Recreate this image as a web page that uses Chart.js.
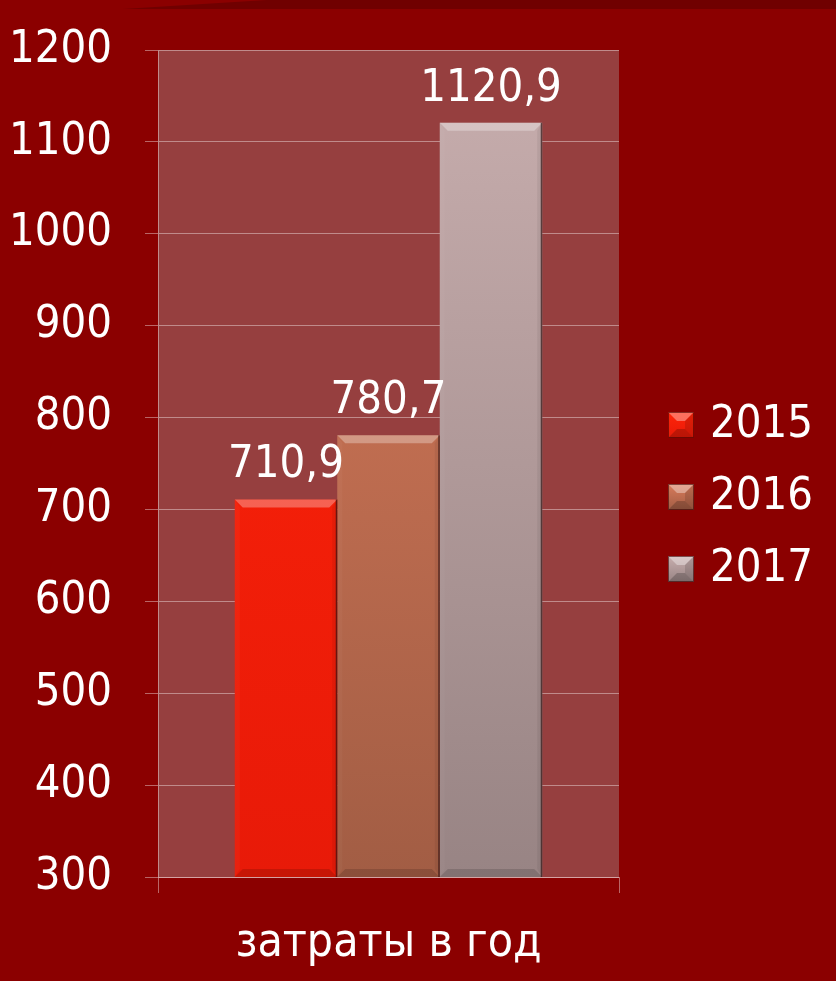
<!DOCTYPE html>
<html>
<head>
<meta charset="utf-8">
<script src="https://cdn.jsdelivr.net/npm/chart.js@4/dist/chart.umd.min.js"></script>
<style>
  html, body { margin: 0; padding: 0; background: #8B0000; }
  #wrap { width: 836px; height: 981px; }
</style>
</head>
<body>
<div id="wrap"><canvas id="c" width="836" height="981"></canvas></div>
<script>
const categories = ['затраты в год'];
const seriesNames = ['2015', '2016', '2017'];
const values2015 = [710.9];
const values2016 = [780.7];
const values2017 = [1120.9];
const yTicks = [300, 400, 500, 600, 700, 800, 900, 1000, 1100, 1200];

const FONT = '"DejaVu Sans Condensed", "DejaVu Sans", sans-serif';
const gradStops = {
  '2015': ['#FF2409', '#E81A08'],
  '2016': ['#D97B5B', '#A25D44'],
  '2017': ['#C8AEAE', '#988484']
};

function barGradient(ctx, name) {
  const chart = ctx.chart;
  const area = chart.chartArea;
  if (!area) return gradStops[name][0];
  const el = ctx.element;
  const top = el && isFinite(el.y) ? el.y : area.top;
  const g = chart.ctx.createLinearGradient(0, top, 0, area.bottom);
  g.addColorStop(0, gradStops[name][0]);
  g.addColorStop(1, gradStops[name][1]);
  return g;
}

function legendImage(name) {
  const s = 26;
  const cv = document.createElement('canvas');
  cv.width = s; cv.height = s;
  const c = cv.getContext('2d');
  const g = c.createLinearGradient(0, 0, 0, s);
  g.addColorStop(0, gradStops[name][0]);
  g.addColorStop(1, gradStops[name][1]);
  c.fillStyle = g;
  c.fillRect(0, 0, s, s);
  const b = 9;
  c.fillStyle = 'rgba(255,255,255,0.35)';
  c.beginPath(); c.moveTo(0,0); c.lineTo(s,0); c.lineTo(s-b,b); c.lineTo(b,b); c.closePath(); c.fill();
  c.fillStyle = 'rgba(0,0,0,0.12)';
  c.beginPath(); c.moveTo(s,0); c.lineTo(s,s); c.lineTo(s-b,s-b); c.lineTo(s-b,b); c.closePath(); c.fill();
  c.fillStyle = 'rgba(0,0,0,0.2)';
  c.beginPath(); c.moveTo(0,s); c.lineTo(s,s); c.lineTo(s-b,s-b); c.lineTo(b,s-b); c.closePath(); c.fill();
  c.strokeStyle = 'rgba(60,0,0,0.6)';
  c.lineWidth = 1;
  c.strokeRect(0.5, 0.5, s-1, s-1);
  return cv;
}

const bgPlugin = {
  id: 'bgPlugin',
  beforeLayout(chart) {
    const lg = chart.legend;
    if (lg && !lg._fixedWidth) {
      const orig = lg.fit.bind(lg);
      lg.fit = function () { orig(); this.width = 188.5; };
      lg._fixedWidth = true;
    }
  },
  beforeDraw(chart) {
    const {ctx, chartArea: a} = chart;
    ctx.save();
    ctx.fillStyle = '#8B0000';
    ctx.fillRect(0, 0, chart.width, chart.height);
    ctx.fillStyle = '#700000';
    ctx.beginPath();
    ctx.moveTo(123, 9); ctx.lineTo(267, 0); ctx.lineTo(836, 0); ctx.lineTo(836, 9);
    ctx.closePath(); ctx.fill();
    ctx.fillStyle = '#963F3F';
    ctx.fillRect(a.left, a.top, a.right - a.left, a.bottom - a.top);
    ctx.restore();
  }
};

const bevelPlugin = {
  id: 'bevelPlugin',
  afterDatasetsDraw(chart) {
    const ctx = chart.ctx;
    const area = chart.chartArea;
    ctx.save();
    chart.data.datasets.forEach((ds, i) => {
      const meta = chart.getDatasetMeta(i);
      meta.data.forEach((el, j) => {
        const l = el.x - el.width / 2, r = el.x + el.width / 2;
        const t = el.y, btm = Math.min(el.base, area.bottom);
        const b = 8, sb = 5;
        ctx.fillStyle = 'rgba(255,255,255,0.30)';
        ctx.beginPath(); ctx.moveTo(l,t); ctx.lineTo(r,t); ctx.lineTo(r-b,t+b); ctx.lineTo(l+b,t+b); ctx.closePath(); ctx.fill();
        ctx.fillStyle = 'rgba(255,255,255,0.03)';
        ctx.beginPath(); ctx.moveTo(l,t); ctx.lineTo(l+sb,t+b); ctx.lineTo(l+sb,btm-b); ctx.lineTo(l,btm); ctx.closePath(); ctx.fill();
        ctx.fillStyle = 'rgba(0,0,0,0.06)';
        ctx.beginPath(); ctx.moveTo(r,t); ctx.lineTo(r-sb,t+b); ctx.lineTo(r-sb,btm-b); ctx.lineTo(r,btm); ctx.closePath(); ctx.fill();
        ctx.fillStyle = 'rgba(0,0,0,0.14)';
        ctx.beginPath(); ctx.moveTo(l,btm); ctx.lineTo(l+b,btm-b); ctx.lineTo(r-b,btm-b); ctx.lineTo(r,btm); ctx.closePath(); ctx.fill();
        ctx.strokeStyle = 'rgba(50,20,20,0.7)';
        ctx.lineWidth = 1.5;
        ctx.beginPath(); ctx.moveTo(r-0.75, t); ctx.lineTo(r-0.75, btm); ctx.stroke();
        // data label
        const v = ds.data[j];
        ctx.fillStyle = '#FFFFFF';
        ctx.font = '45px ' + FONT;
        ctx.textAlign = 'center';
        ctx.textBaseline = 'alphabetic';
        ctx.fillText(v.toFixed(1).replace('.', ','), el.x, t - 22);
      });
    });
    ctx.restore();
  }
};

const datasets = [
  {label: seriesNames[0], data: values2015, backgroundColor: c => barGradient(c, '2015'), pointStyle: legendImage('2015')},
  {label: seriesNames[1], data: values2016, backgroundColor: c => barGradient(c, '2016'), pointStyle: legendImage('2016')},
  {label: seriesNames[2], data: values2017, backgroundColor: c => barGradient(c, '2017'), pointStyle: legendImage('2017')}
];

new Chart(document.getElementById('c'), {
  type: 'bar',
  data: { labels: categories, datasets },
  plugins: [bgPlugin, bevelPlugin],
  options: {
    responsive: false,
    animation: false,
    devicePixelRatio: 1,
    layout: { padding: { top: 13, left: 0, right: 0, bottom: 0 } },
    datasets: { bar: { categoryPercentage: 0.667, barPercentage: 1.0, borderWidth: 0 } },
    plugins: {
      tooltip: { enabled: false },
      legend: {
        position: 'right',
        labels: {
          color: '#FFFFFF',
          font: { family: FONT, size: 45 },
          usePointStyle: true,
          pointStyleWidth: 13,
          boxWidth: 26,
          boxHeight: 26,
          padding: 27
        }
      }
    },
    scales: {
      x: {
        grid: { display: true, drawOnChartArea: false, drawTicks: true, tickLength: 16, color: 'rgba(255,255,255,0.4)', offset: true },
        border: { display: true, color: 'rgba(255,255,255,0.4)' },
        ticks: { color: '#FFFFFF', font: { family: FONT, size: 46 }, padding: 23 },
        afterFit: s => { s.height = 104; }
      },
      y: {
        min: 300, max: 1200,
        afterBuildTicks: s => { s.ticks = yTicks.map(v => ({value: v})); },
        grid: { color: 'rgba(255,255,255,0.4)', tickLength: 13 },
        border: { display: true, color: 'rgba(255,255,255,0.4)' },
        ticks: { color: '#FFFFFF', font: { family: FONT, size: 45 }, padding: 33, callback: v => String(v) },
        afterFit: s => { s.width = 158; s.paddingTop = 50; }
      },
      pad: {
        type: 'linear', position: 'right', display: true,
        grid: { display: false }, border: { display: false }, ticks: { display: false },
        afterFit: s => { s.width = 28.5; }
      }
    }
  }
});
</script>
</body>
</html>
